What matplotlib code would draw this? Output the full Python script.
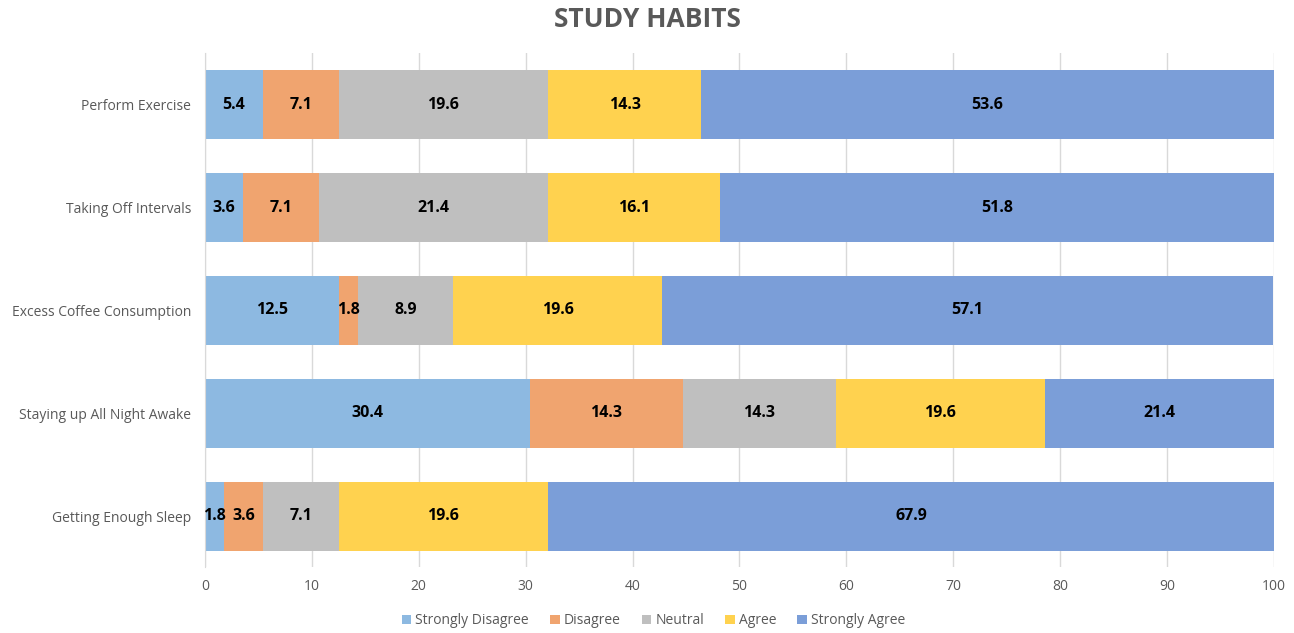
import numpy as np
import matplotlib
matplotlib.use("Agg")
import matplotlib.pyplot as plt

plt.rcParams['font.family'] = ['Open Sans', 'DejaVu Sans']

# data
habits = ["Perform Exercise", "Taking Off Intervals", "Excess Coffee Consumption",
          "Staying up All Night Awake", "Getting Enough Sleep"]
levels = ["Strongly Disagree", "Disagree", "Neutral", "Agree", "Strongly Agree"]
strongly_disagree = [5.4, 3.6, 12.5, 30.4, 1.8]
disagree = [7.1, 7.1, 1.8, 14.3, 3.6]
neutral = [19.6, 21.4, 8.9, 14.3, 7.1]
agree = [14.3, 16.1, 19.6, 19.6, 19.6]
strongly_agree = [53.6, 51.8, 57.1, 21.4, 67.9]
ticks = list(range(0, 101, 10))

colors = ["#8DB9E1", "#F0A46F", "#BFBFBF", "#FFD24F", "#7B9ED8"]
series = [strongly_disagree, disagree, neutral, agree, strongly_agree]

fig = plt.figure(figsize=(12.94, 6.33), dpi=100)
ax = fig.add_axes([0.1584, 0.1035, 0.8261, 0.812])

y = np.arange(len(habits))
left = np.zeros(len(habits))
for name, vals, c in zip(levels, series, colors):
    vals = np.array(vals)
    ax.barh(y, vals, left=left, height=0.67, color=c, label=name, zorder=2)
    for i, v in enumerate(vals):
        ax.text(left[i] + v / 2, y[i], f"{v:.1f}", ha='center', va='center',
                fontsize=11.5, fontweight='bold', color='black', zorder=3)
    left += vals

ax.set_xlim(0, 100)
ax.set_ylim(len(habits) - 0.5, -0.5)
ax.set_yticks(y)
ax.set_yticklabels(habits, fontsize=10, color='#595959')
ax.set_xticks(ticks)
ax.set_xticklabels([str(t) for t in ticks], fontsize=10, color='#595959')
ax.tick_params(axis='y', length=0, pad=10)
ax.tick_params(axis='x', length=0, pad=8)
ax.xaxis.grid(True, color='#D9D9D9', linewidth=1, zorder=0)
for s in ['top', 'right', 'bottom']:
    ax.spines[s].set_visible(False)
ax.spines['left'].set_color('#D9D9D9')
ax.set_axisbelow(True)

fig.suptitle("STUDY HABITS", fontsize=19, fontweight='bold', color='#595959', y=0.99)
fig.legend(loc='center', bbox_to_anchor=(0.505, 0.019), ncol=5, frameon=False,
           fontsize=10, handlelength=0.7, handleheight=0.7, handletextpad=0.3,
           columnspacing=1.5, labelcolor='#595959')

fig.savefig("out.png", dpi=100)
